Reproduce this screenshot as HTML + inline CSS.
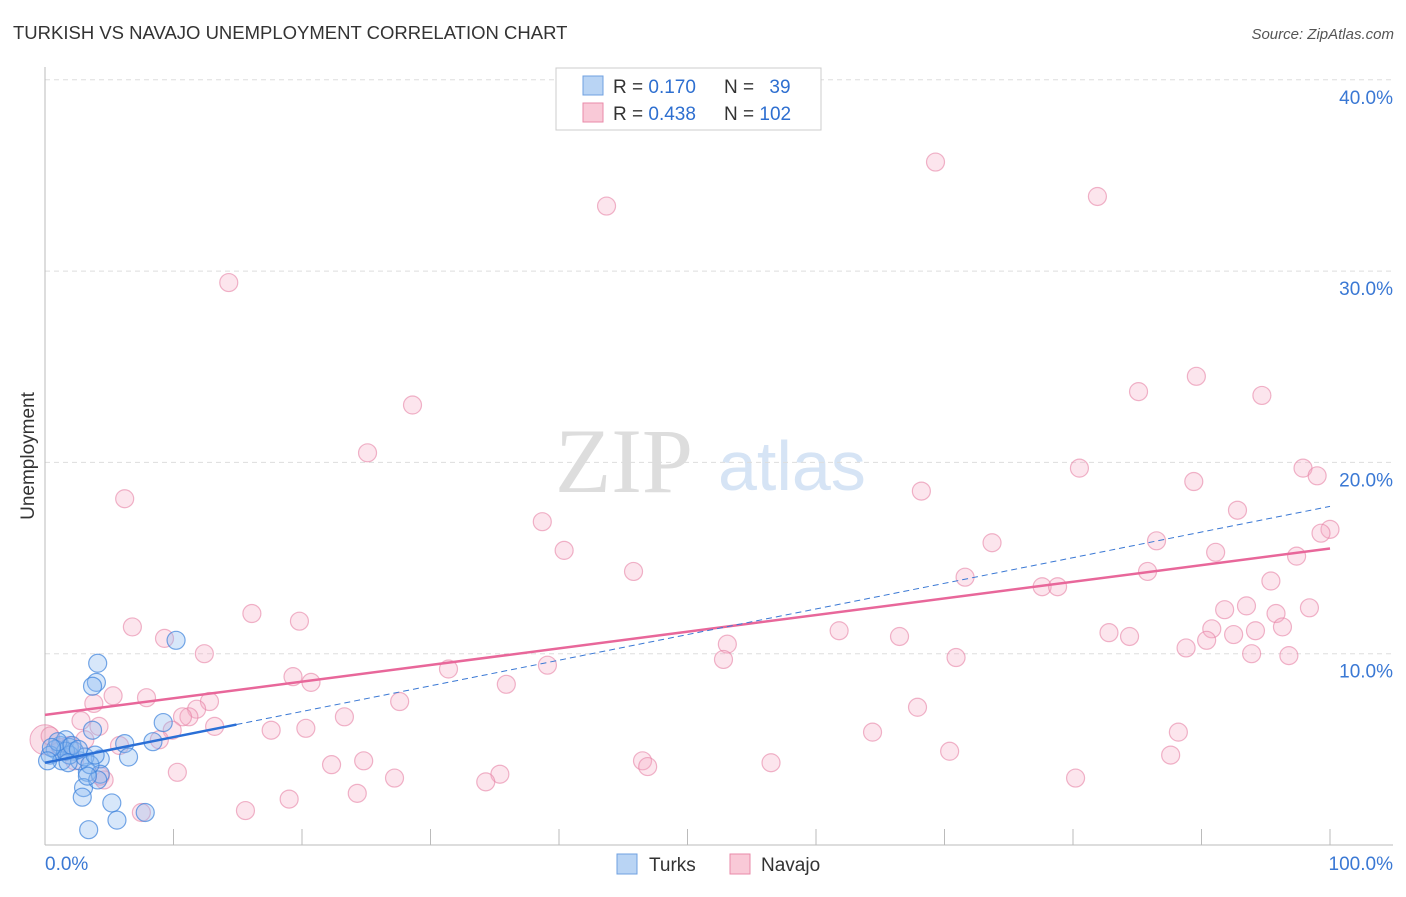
<!DOCTYPE html>
<html><head><meta charset="utf-8"><style>
body{margin:0;background:#fff;font-family:"Liberation Sans",sans-serif}
svg text{font-family:"Liberation Sans",sans-serif}
</style></head><body>
<svg width="1406" height="892" xmlns="http://www.w3.org/2000/svg">
<text x="13" y="39" font-size="18.5" fill="#333">TURKISH VS NAVAJO UNEMPLOYMENT CORRELATION CHART</text>
<text x="1394" y="39" font-size="15" fill="#555" text-anchor="end" font-style="italic">Source: ZipAtlas.com</text>
<g>
<text x="555" y="492" font-size="92" fill="#ddd" font-family="Liberation Serif" style="font-family:'Liberation Serif',serif">ZIP</text>
<text x="718" y="490" font-size="70" fill="#d6e4f5">atlas</text>
</g>
<g id="grid"></g>
<g id="axes"></g>
<g id="pts"></g>
<g id="lines"></g>
<text x="34" y="456" font-size="19" fill="#333" text-anchor="middle" transform="rotate(-90 34 456)">Unemployment</text>
<g>
<rect x="556" y="68" width="265" height="62" fill="#fff" stroke="#ccc"/>
<rect x="583" y="76" width="20" height="19" fill="#b9d4f4" stroke="#6fa0e0"/>
<rect x="583" y="103" width="20" height="19" fill="#f9c9d7" stroke="#e98aa8"/>
<text x="613" y="93" font-size="19" fill="#333">R = <tspan fill="#2e6fd0">0.170</tspan></text>
<text x="724" y="93" font-size="19" fill="#333">N = <tspan fill="#2e6fd0" dx="10">39</tspan></text>
<text x="613" y="120" font-size="19" fill="#333">R = <tspan fill="#2e6fd0">0.438</tspan></text>
<text x="724" y="120" font-size="19" fill="#333">N = <tspan fill="#2e6fd0">102</tspan></text>
</g>
<g>
<rect x="617" y="854" width="20" height="20" fill="#b9d4f4" stroke="#6fa0e0"/>
<text x="649" y="871" font-size="19" fill="#333">Turks</text>
<rect x="730" y="854" width="20" height="20" fill="#f9c9d7" stroke="#e98aa8"/>
<text x="761" y="871" font-size="19" fill="#333">Navajo</text>
</g>
</svg>
<script>
const yTicks=[10,20,30,40];
const yTickLabels=["10.0%","20.0%","30.0%","40.0%"];
const xTicks=[0,10,20,30,40,50,60,70,80,90,100];
const turksX=[4.1,4.0,3.7,10.2,9.2,8.4,6.2,6.5,4.3,3.7,3.3,3.0,2.9,5.2,5.6,3.4,7.8,4.3,4.1,1.2,1.6,1.9,2.3,0.8,0.4,1.3,2.7,3.1,3.5,1.9,1.6,1.0,0.5,2.1,2.6,3.3,3.9,1.8,0.2];
const turksY=[9.5,8.5,8.3,10.7,6.4,5.4,5.3,4.6,4.5,6.0,3.8,3.0,2.5,2.2,1.3,0.8,1.7,3.7,3.4,5.2,5.5,5.1,4.9,5.0,4.7,4.4,4.4,4.6,4.2,4.7,4.9,5.4,5.1,5.2,5.0,3.6,4.7,4.3,4.4];
const navX=[69.3,43.7,81.9,14.3,28.6,25.1,6.2,38.7,40.4,45.8,16.1,19.8,6.8,9.3,12.4,89.6,85.1,94.7,80.5,97.9,99.0,89.4,68.2,92.8,100,99.3,73.7,86.5,91.1,97.4,85.8,71.6,95.4,77.6,78.8,93.5,91.8,98.4,95.8,96.3,90.8,92.5,94.2,82.8,84.4,61.8,66.5,53.1,88.8,90.4,93.9,96.8,70.9,52.8,39.1,31.4,19.3,20.7,35.9,27.6,12.8,5.3,7.9,3.8,11.8,11.2,10.7,67.9,2.8,4.2,23.3,20.3,17.6,13.2,9.9,64.4,8.9,5.8,88.2,46.5,46.9,70.4,22.3,24.8,87.6,56.5,35.4,34.3,27.2,80.2,10.3,4.6,4.3,24.3,19.0,15.6,7.5,1.9,1.2,0.4,2.3,3.1];
const navY=[35.7,33.4,33.9,29.4,23.0,20.5,18.1,16.9,15.4,14.3,12.1,11.7,11.4,10.8,10.0,24.5,23.7,23.5,19.7,19.7,19.3,19.0,18.5,17.5,16.5,16.3,15.8,15.9,15.3,15.1,14.3,14.0,13.8,13.5,13.5,12.5,12.3,12.4,12.1,11.4,11.3,11.0,11.2,11.1,10.9,11.2,10.9,10.5,10.3,10.7,10.0,9.9,9.8,9.7,9.4,9.2,8.8,8.5,8.4,7.5,7.5,7.8,7.7,7.4,7.1,6.7,6.7,7.2,6.5,6.2,6.7,6.1,6.0,6.2,6.0,5.9,5.5,5.2,5.9,4.4,4.1,4.9,4.2,4.4,4.7,4.3,3.7,3.3,3.5,3.5,3.8,3.4,3.6,2.7,2.4,1.8,1.7,5.2,5.1,5.7,4.4,5.5];
const navTrend=[6.8,15.5];        // y at x=0, x=100
const turksTrend=[4.3,17.7];     // y at x=0, x=100
const turksSolidEnd=14.9;
const NS="http://www.w3.org/2000/svg";
const X=v=>45+v*12.85, Y=v=>845-v*19.13;
function mk(t,a,p){const e=document.createElementNS(NS,t);for(const k in a)e.setAttribute(k,a[k]);p.appendChild(e);return e;}
const grid=document.getElementById('grid'),axes=document.getElementById('axes'),pts=document.getElementById('pts'),lines=document.getElementById('lines');
yTicks.forEach((t,i)=>{
 const l=mk('line',{x1:45,x2:1393,y1:Y(t),y2:Y(t),stroke:'#ddd','stroke-dasharray':'5,4'},grid);
 
 
 const tx=mk('text',{x:1393,y:Y(t)+24,'font-size':19,fill:'#3a78d4','text-anchor':'end'},axes);
 tx.textContent=yTickLabels[i];
 
 
});
mk('line',{x1:45,x2:45,y1:67,y2:845,stroke:'#bbb'},axes);
mk('line',{x1:45,x2:1393,y1:845,y2:845,stroke:'#bbb'},axes);
xTicks.forEach(t=>{if(t>0){const l=mk('line',{x1:X(t),x2:X(t),y1:829,y2:845,stroke:'#bbb'},axes);
 
 }});
const x0=mk('text',{x:45,y:870,'font-size':19,fill:'#3a78d4'},axes);x0.textContent='0.0%';


const x1=mk('text',{x:1393,y:870,'font-size':19,fill:'#3a78d4','text-anchor':'end'},axes);x1.textContent='100.0%';


mk('circle',{cx:X(0),cy:Y(5.5),r:15,fill:'rgba(240,150,180,0.3)',stroke:'rgba(230,120,160,0.6)'},pts);
navX.forEach((x,i)=>{const c=mk('circle',{cx:X(x),cy:Y(navY[i]),r:9,fill:'rgba(245,170,195,0.3)',stroke:'rgba(230,130,165,0.6)','stroke-width':1.2},pts);
 
 });
turksX.forEach((x,i)=>{const c=mk('circle',{cx:X(x),cy:Y(turksY[i]),r:9,fill:'rgba(140,185,240,0.35)',stroke:'rgba(60,130,220,0.7)','stroke-width':1.2},pts);
 
 });
const tY=x=>turksTrend[0]+(turksTrend[1]-turksTrend[0])*x/100;
let l1=mk('line',{x1:X(0),y1:Y(navTrend[0]),x2:X(100),y2:Y(navTrend[1]),stroke:'#e8679a','stroke-width':2.5},lines);


let l2=mk('line',{x1:X(turksSolidEnd),y1:Y(tY(turksSolidEnd)),x2:X(100),y2:Y(tY(100)),stroke:'#3a78d4','stroke-width':1,'stroke-dasharray':'6,4'},lines);


let l3=mk('line',{x1:X(0),y1:Y(tY(0)),x2:X(turksSolidEnd),y2:Y(tY(turksSolidEnd)),stroke:'#2a6fd6','stroke-width':2.5},lines);


</script>
</body></html>
